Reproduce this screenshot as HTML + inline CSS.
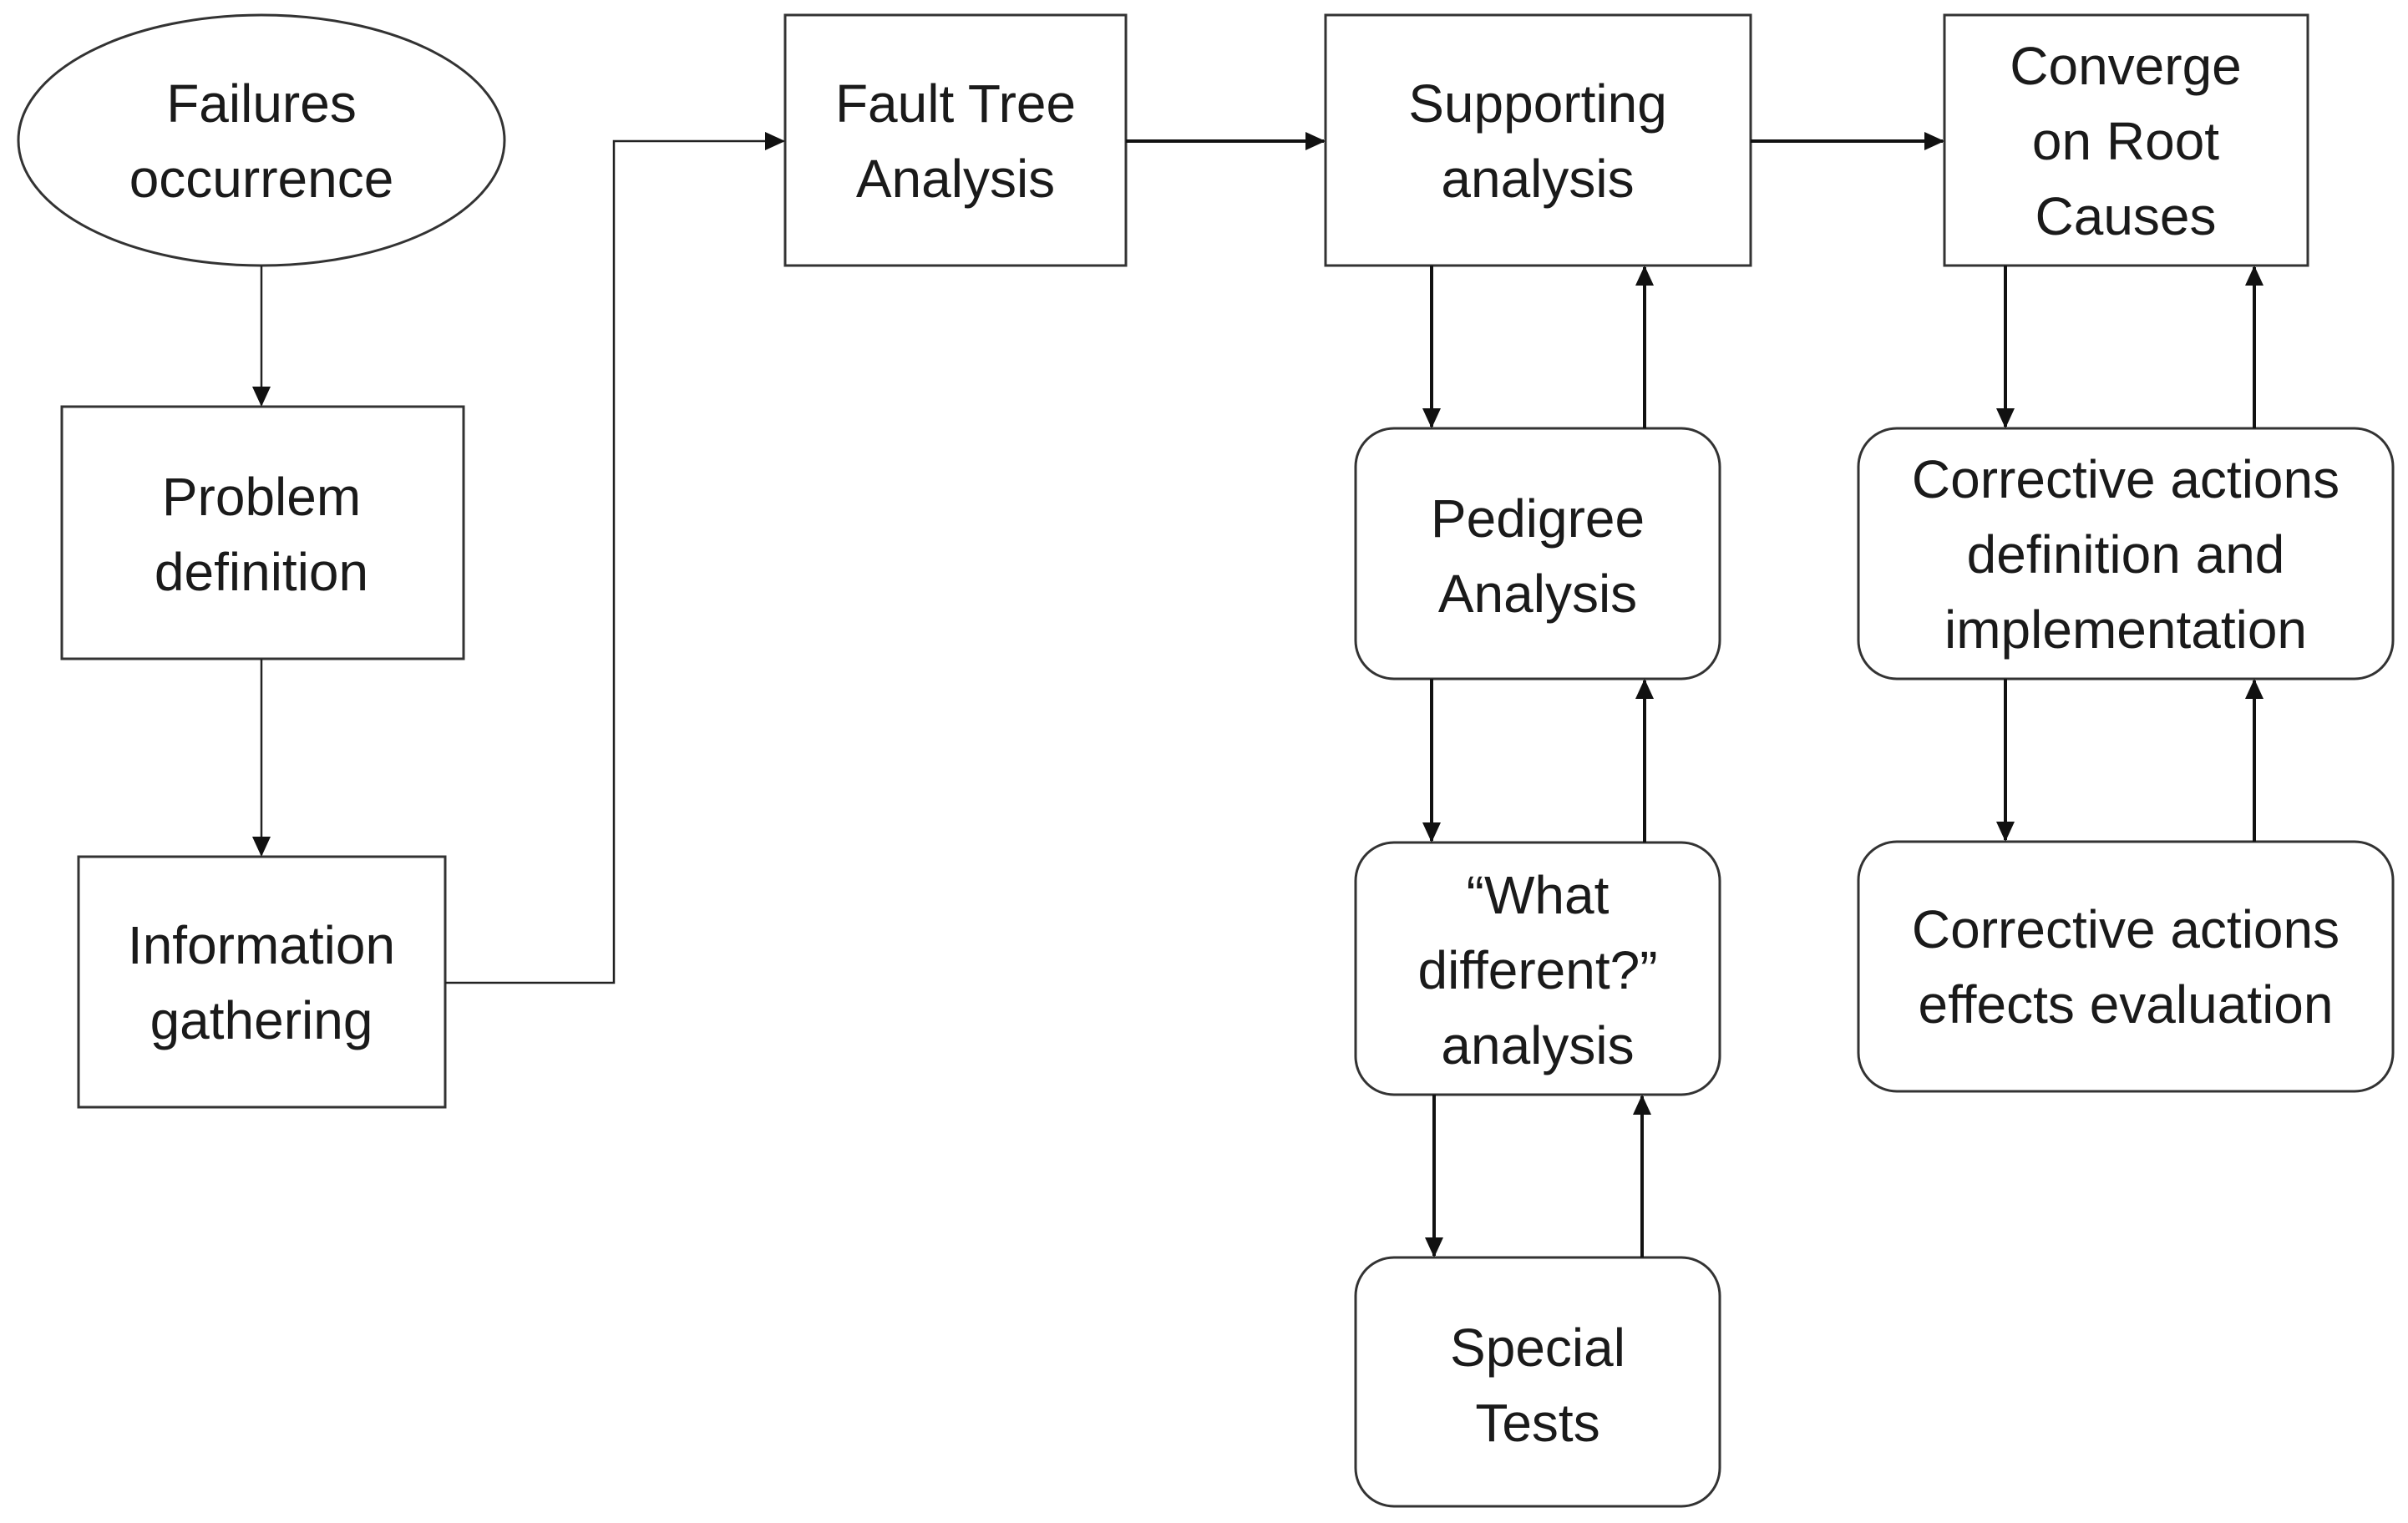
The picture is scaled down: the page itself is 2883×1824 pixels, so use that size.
<!DOCTYPE html>
<html><head><meta charset="utf-8"><style>
html,body{margin:0;padding:0;background:#fff;}
svg{display:block;}
text{font-family:"Liberation Sans",sans-serif;font-size:64px;fill:#1a1a1a;text-anchor:middle;}
</style></head><body>
<svg width="2883" height="1824" viewBox="0 0 2883 1824" xmlns="http://www.w3.org/2000/svg">
<defs>
<marker id="b" markerWidth="24" markerHeight="22" refX="22" refY="11" orient="auto" markerUnits="userSpaceOnUse" viewBox="0 0 24 22">
<path d="M0,0 L24,11 L0,22 z" fill="#111"/></marker>
</defs>
<g fill="#fff" stroke="#333" stroke-width="3">
<ellipse cx="313" cy="168" rx="291" ry="150"/>
<rect x="74" y="487" width="481" height="302"/>
<rect x="94" y="1026" width="439" height="300"/>
<rect x="940" y="18" width="408" height="300"/>
<rect x="1587" y="18" width="509" height="300"/>
<rect x="2328" y="18" width="435" height="300"/>
<rect x="1623" y="513" width="436" height="300" rx="46"/>
<rect x="1623" y="1009" width="436" height="302" rx="46"/>
<rect x="1623" y="1506" width="436" height="298" rx="46"/>
<rect x="2225" y="513" width="640" height="300" rx="46"/>
<rect x="2225" y="1008" width="640" height="299" rx="46"/>
</g>
<g stroke="#222" stroke-width="2.5" fill="none">
<line x1="313" y1="318" x2="313" y2="485" marker-end="url(#b)"/>
<line x1="313" y1="789" x2="313" y2="1024" marker-end="url(#b)"/>
<polyline points="533,1177 735,1177 735,169 938,169" marker-end="url(#b)"/>
</g>
<g stroke="#111" stroke-width="4" fill="none">
<line x1="1348" y1="169" x2="1585" y2="169" marker-end="url(#b)"/>
<line x1="2096" y1="169" x2="2326" y2="169" marker-end="url(#b)"/>
<line x1="1714" y1="318" x2="1714" y2="511" marker-end="url(#b)"/>
<line x1="1969" y1="513" x2="1969" y2="320" marker-end="url(#b)"/>
<line x1="1714" y1="813" x2="1714" y2="1007" marker-end="url(#b)"/>
<line x1="1969" y1="1009" x2="1969" y2="815" marker-end="url(#b)"/>
<line x1="1717" y1="1311" x2="1717" y2="1504" marker-end="url(#b)"/>
<line x1="1966" y1="1506" x2="1966" y2="1313" marker-end="url(#b)"/>
<line x1="2401" y1="318" x2="2401" y2="511" marker-end="url(#b)"/>
<line x1="2699" y1="513" x2="2699" y2="320" marker-end="url(#b)"/>
<line x1="2401" y1="813" x2="2401" y2="1006" marker-end="url(#b)"/>
<line x1="2699" y1="1008" x2="2699" y2="815" marker-end="url(#b)"/>
</g>
<text x="313" y="146">Failures</text>
<text x="313" y="236">occurrence</text>
<text x="313" y="617">Problem</text>
<text x="313" y="707">definition</text>
<text x="313" y="1154">Information</text>
<text x="313" y="1244">gathering</text>
<text x="1144" y="146">Fault Tree</text>
<text x="1144" y="236">Analysis</text>
<text x="1841" y="146">Supporting</text>
<text x="1841" y="236">analysis</text>
<text x="2545" y="101">Converge</text>
<text x="2545" y="191">on Root</text>
<text x="2545" y="281">Causes</text>
<text x="1841" y="643">Pedigree</text>
<text x="1841" y="733">Analysis</text>
<text x="1841" y="1094">“What</text>
<text x="1841" y="1184">different?”</text>
<text x="1841" y="1274">analysis</text>
<text x="1841" y="1636">Special</text>
<text x="1841" y="1726">Tests</text>
<text x="2545" y="596">Corrective actions</text>
<text x="2545" y="686">definition and</text>
<text x="2545" y="776">implementation</text>
<text x="2545" y="1135">Corrective actions</text>
<text x="2545" y="1225">effects evaluation</text>
</svg>
</body></html>
